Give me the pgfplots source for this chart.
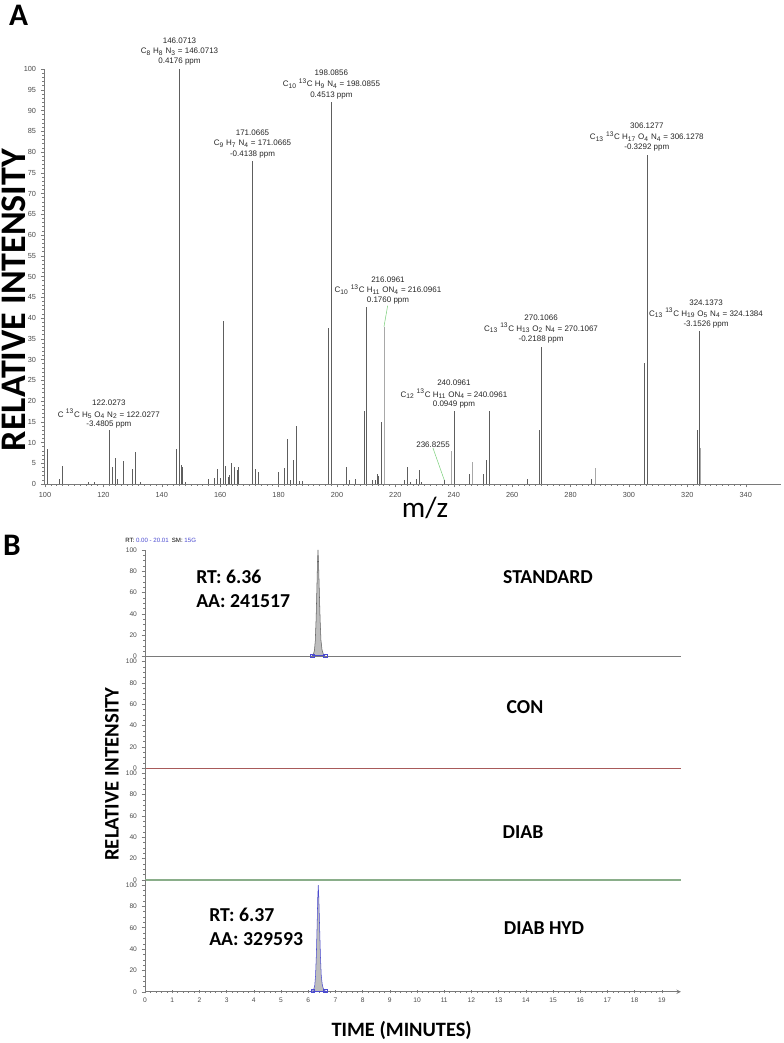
\documentclass[border=0pt]{standalone}
\usepackage{pgfplots}
\pgfplotsset{compat=1.18}
\usepackage{fontspec}
\setmainfont{Liberation Sans}
\newfontfamily\carl{Carlito}
\definecolor{pk}{HTML}{5E5E5E}
\definecolor{pkl}{HTML}{A8A8A8}
\definecolor{tk}{HTML}{4A4A4A}
\definecolor{axc}{HTML}{7A7A7A}
\definecolor{gleader}{HTML}{7ED07E}
\definecolor{bluet}{HTML}{4B4BD0}
\definecolor{fillg}{HTML}{BDBDBD}
\definecolor{conline}{HTML}{A85A5A}
\definecolor{diabline}{HTML}{8AAE8A}
\pgfplotsset{
 bp/.style={scale only axis, width=401.9pt, xmin=0, xmax=19.7, ymin=0,
  axis y line=left, axis line style={-, draw=axc, line width=0.5pt},
  ytick={0,20,...,100}, minor y tick num=3, tick align=outside,
  major tick length=2.5pt, minor tick length=1.4pt,
  tick style={axc, line width=0.35pt},
  /pgf/number format/assume math mode=true,
  y tick label style={font=\fontsize{5}{5}\selectfont, text=tk},
  x tick label style={font=\fontsize{5}{5}\selectfont, text=tk},
  clip=false}
}
\tikzset{lab/.style={font=\fontsize{6}{6}\selectfont, text=black!85, inner sep=0pt}}
\begin{document}
\begin{tikzpicture}
\path[use as bounding box] (0,0) rectangle (587.25pt,-782.25pt);
% ---------------- Panel A ----------------
\begin{axis}[
 at={(33.08pt,-363pt)}, anchor=south west,
 scale only axis, width=552.5pt, height=311.25pt,
 xmin=99.7, xmax=352, ymin=0, ymax=100,
 axis x line=bottom, axis y line=left,
 axis line style={-, draw=axc, line width=0.5pt},
 xtick={100,120,...,340}, minor x tick num=9,
 ytick={0,5,...,100}, minor y tick num=4,
 tick align=outside, major tick length=2.5pt, minor tick length=1.4pt,
 tick style={axc, line width=0.35pt},
 /pgf/number format/assume math mode=true,
 x tick label style={font=\fontsize{5.5}{6}\selectfont, text=tk},
 y tick label style={font=\fontsize{5.5}{6}\selectfont, text=tk},
 clip=false,
]
\addplot[ycomb, pk, line width=0.45pt, mark=none] coordinates {
(100.8,8.5) (104.9,1.1) (105.9,4.4) (115.0,0.5) (117.0,0.6)
(122.03,12.9) (122.9,3.8) (123.2,4.0) (124.0,6.3) (124.6,1.2)
(126.9,5.6) (129.9,3.5) (130.9,7.7) (132.8,0.5)
(145.1,8.5) (146.07,100) (146.8,4.5) (147.1,4.2) (148.0,0.6)
(155.9,1.1) (158.0,1.4) (159.0,3.7) (160.0,1.4) (161.07,39.3)
(161.9,4.4) (162.8,1.8) (163.1,2.2) (163.9,5.0) (164.9,4.0)
(165.9,3.4) (166.2,4.0) (171.07,77.8) (172.1,3.6) (173.2,2.9)
(180.0,2.9) (181.9,3.8) (183.0,10.9) (184.0,0.9) (185.0,5.9)
(186.1,13.9) (187.1,0.7) (188.2,0.7) (197.2,37.7) (198.09,92.0)
(203.1,4.0) (204.1,1.0) (206.2,1.1) (209.2,17.6) (210.2,42.7)
(212.2,1.0) (213.2,0.9) (213.9,2.3) (214.1,1.9) (215.2,15.0)
(223.0,1.0) (224.0,4.2) (225.0,0.6) (227.2,1.3) (228.1,3.4)
(229.0,0.6) (236.8,1.0) (240.1,17.6) (245.3,2.3) (250.2,2.3)
(251.1,5.8) (252.1,17.6) (265.2,1.2) (269.3,13.0) (270.11,33.1)
(287.1,1.2) (287.2,1.3) (305.3,29.2) (306.13,79.3) (323.5,13.0)
(324.14,36.9)
};
\addplot[ycomb, pkl, line width=0.5pt, mark=none] coordinates {
(216.1,37.9) (239.2,8.0) (246.2,5.4) (288.4,3.9) (324.3,8.6)
};
\draw[gleader, line width=0.4pt] (axis cs:217.36,42.96) -- (axis cs:216.1,37.9);
\draw[gleader, line width=0.4pt] (axis cs:232.88,8.67) -- (axis cs:236.75,0.96);
% labels
\node[lab] at (axis cs:146.07,106.75) {146.0713};
\node[lab] at (axis cs:146.07,104.22) {C\textsubscript{8} H\textsubscript{8} N\textsubscript{3} = 146.0713};
\node[lab] at (axis cs:146.07,101.69) {0.4176 ppm};
\node[lab] at (axis cs:171.07,84.58) {171.0665};
\node[lab] at (axis cs:171.07,82.05) {C\textsubscript{9} H\textsubscript{7} N\textsubscript{4} = 171.0665};
\node[lab] at (axis cs:171.07,79.28) {-0.4138 ppm};
\node[lab] at (axis cs:198.09,99.04) {198.0856};
\node[lab] at (axis cs:198.09,96.51) {C\textsubscript{10} \textsuperscript{13}C H\textsubscript{9} N\textsubscript{4} = 198.0855};
\node[lab] at (axis cs:198.09,93.49) {0.4513 ppm};
\node[lab] at (axis cs:306.13,86.27) {306.1277};
\node[lab] at (axis cs:306.13,83.73) {C\textsubscript{13} \textsuperscript{13}C H\textsubscript{17} O\textsubscript{4} N\textsubscript{4} = 306.1278};
\node[lab] at (axis cs:306.13,80.96) {-0.3292 ppm};
\node[lab] at (axis cs:217.47,49.16) {216.0961};
\node[lab] at (axis cs:217.47,46.87) {C\textsubscript{10} \textsuperscript{13}C H\textsubscript{11} ON\textsubscript{4} = 216.0961};
\node[lab] at (axis cs:217.47,44.10) {0.1760 ppm};
\node[lab] at (axis cs:269.9,40.0) {270.1066};
\node[lab] at (axis cs:269.9,37.59) {C\textsubscript{13} \textsuperscript{13}C H\textsubscript{13} O\textsubscript{2} N\textsubscript{4} = 270.1067};
\node[lab] at (axis cs:269.9,34.70) {-0.2188 ppm};
\node[lab] at (axis cs:326.4,43.61) {324.1373};
\node[lab] at (axis cs:326.4,41.20) {C\textsubscript{13} \textsuperscript{13}C H\textsubscript{19} O\textsubscript{5} N\textsubscript{4} = 324.1384};
\node[lab] at (axis cs:326.4,38.31) {-3.1526 ppm};
\node[lab] at (axis cs:240.07,24.34) {240.0961};
\node[lab] at (axis cs:240.07,21.69) {C\textsubscript{12} \textsuperscript{13}C H\textsubscript{11} ON\textsubscript{4} = 240.0961};
\node[lab] at (axis cs:240.07,19.04) {0.0949 ppm};
\node[lab] at (axis cs:232.9,9.40) {236.8255};
\node[lab] at (axis cs:121.9,19.52) {122.0273};
\node[lab] at (axis cs:121.9,16.87) {C \textsuperscript{13}C H\textsubscript{5} O\textsubscript{4} N\textsubscript{2} = 122.0277};
\node[lab] at (axis cs:121.9,14.22) {-3.4805 ppm};
\end{axis}
% ---------------- Panel B ----------------
\begin{axis}[bp, at={(108.75pt,-492.45pt)}, anchor=south west, ymax=100, height=80.03pt, axis x line=none]
\addplot[fill=fillg, draw=none] coordinates {(6.04,0) (6.14,0.5) (6.19,2) (6.23,6) (6.26,15) (6.29,35) (6.32,65) (6.34,88) (6.36,100) (6.38,88) (6.41,60) (6.44,33) (6.47,15) (6.51,6) (6.56,2) (6.63,0.3) (6.69,0)} \closedcycle;
\addplot[axc!80!black, line width=0.4pt] coordinates {(6.04,0) (6.14,0.5) (6.19,2) (6.23,6) (6.26,15) (6.29,35) (6.32,65) (6.34,88) (6.36,100) (6.38,88) (6.41,60) (6.44,33) (6.47,15) (6.51,6) (6.56,2) (6.63,0.3) (6.69,0)};
\addplot[axc, line width=1.1pt] coordinates {(0,0) (19.7,0)};
\addplot[bluet, line width=0.4pt, mark=square, mark size=1.4pt] coordinates {(6.15,0.8) (6.63,0.8)};
\end{axis}
\begin{axis}[bp, at={(108.75pt,-576.2pt)}, anchor=south west, ymax=104.7, height=83.78pt, axis x line=none]
\addplot[conline, line width=1.1pt] coordinates {(0,0) (19.7,0)};
\end{axis}
\begin{axis}[bp, at={(108.75pt,-660pt)}, anchor=south west, ymax=104.7, height=83.78pt, axis x line=none]
\addplot[diabline, line width=1.1pt] coordinates {(0,0) (19.7,0)};
\end{axis}
\begin{axis}[bp, at={(108.75pt,-743.8pt)}, anchor=south west, ymax=104.7, height=83.78pt,
  axis x line=bottom, xtick={0,1,...,19}, minor x tick num=4]
\addplot[fill=fillg, draw=none] coordinates {(6.05,0) (6.15,0.5) (6.20,2) (6.24,6) (6.27,15) (6.30,35) (6.33,65) (6.35,88) (6.37,100) (6.39,88) (6.42,60) (6.45,33) (6.48,15) (6.52,6) (6.57,2) (6.64,0.3) (6.70,0)} \closedcycle;
\addplot[bluet, line width=0.4pt] coordinates {(6.05,0) (6.15,0.5) (6.20,2) (6.24,6) (6.27,15) (6.30,35) (6.33,65) (6.35,88) (6.37,100) (6.39,88) (6.42,60) (6.45,33) (6.48,15) (6.52,6) (6.57,2) (6.64,0.3) (6.70,0)};
\addplot[bluet, line width=0.4pt, mark=square, mark size=1.4pt] coordinates {(6.17,0.8) (6.64,0.8)};
\end{axis}
% ---------------- Free text ----------------
\begin{scope}[x=0.75pt,y=-0.75pt]
\node[font=\carl\bfseries\fontsize{23.5}{24}\selectfont, inner sep=0pt] at (18.5,15) {A};
\node[font=\carl\bfseries\fontsize{23.5}{24}\selectfont, inner sep=0pt] at (12,545) {B};
\node[font=\carl\bfseries\fontsize{27}{27}\selectfont, rotate=90, inner sep=0pt] at (14,300) {RELATIVE INTENSITY};
\node[font=\carl\fontsize{22}{22}\selectfont, inner sep=0pt] at (425,508) {m/z};
\node[font=\fontsize{4.6}{5}\selectfont, anchor=west, inner sep=0pt] at (125,540) {RT: \textcolor{bluet}{0.00 - 20.01}\enspace SM: \textcolor{bluet}{15G}};
\node[font=\carl\bfseries\fontsize{15.5}{16}\selectfont, rotate=90, inner sep=0pt] at (112,774) {RELATIVE INTENSITY};
\node[font=\carl\bfseries\fontsize{15.3}{16}\selectfont, inner sep=0pt] at (401.7,1030.5) {TIME (MINUTES)};
\node[font=\carl\bfseries\fontsize{14.8}{15}\selectfont, anchor=west, inner sep=0pt] at (196,577) {RT: 6.36};
\node[font=\carl\bfseries\fontsize{14.8}{15}\selectfont, anchor=west, inner sep=0pt] at (196,601) {AA: 241517};
\node[font=\carl\bfseries\fontsize{14.8}{15}\selectfont, inner sep=0pt] at (548,577) {STANDARD};
\node[font=\carl\bfseries\fontsize{14.8}{15}\selectfont, inner sep=0pt] at (525,707) {CON};
\node[font=\carl\bfseries\fontsize{14.8}{15}\selectfont, inner sep=0pt] at (523,832) {DIAB};
\node[font=\carl\bfseries\fontsize{14.8}{15}\selectfont, anchor=west, inner sep=0pt] at (209,915) {RT: 6.37};
\node[font=\carl\bfseries\fontsize{14.8}{15}\selectfont, anchor=west, inner sep=0pt] at (209,939) {AA: 329593};
\node[font=\carl\bfseries\fontsize{14.8}{15}\selectfont, inner sep=0pt] at (544,928) {DIAB HYD};
\end{scope}
\end{tikzpicture}
\end{document}
